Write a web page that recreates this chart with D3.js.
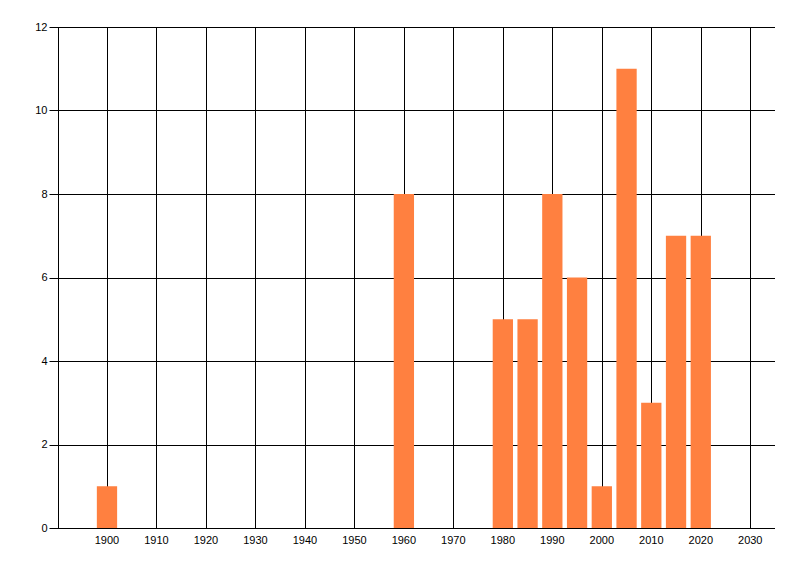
<!DOCTYPE html>
<html>
<head>
<meta charset="utf-8">
<script src="https://cdn.jsdelivr.net/npm/d3@7"></script>
<style>
  body { margin: 0; background: #fff; }
  text { font-family: "Liberation Sans", Arial, sans-serif; font-size: 11px; fill: #000; }
</style>
</head>
<body>
<div id="chart"></div>
<script>
const years = [1900, 1960, 1980, 1985, 1990, 1995, 2000, 2005, 2010, 2015, 2020];
const counts = [1, 8, 5, 5, 8, 6, 1, 11, 3, 7, 7];
const xTicks = [1900, 1910, 1920, 1930, 1940, 1950, 1960, 1970, 1980, 1990, 2000, 2010, 2020, 2030];
const yTicks = [0, 2, 4, 6, 8, 10, 12];

const width = 800, height = 576;
const margin = { top: 27, right: 25, bottom: 48, left: 57.5 };

const svg = d3.select("#chart")
  .append("svg")
  .attr("width", width)
  .attr("height", height);

const x = d3.scaleLinear().domain([1890, 2035]).range([margin.left, width - margin.right]);
const y = d3.scaleLinear().domain([0, 12]).range([height - margin.bottom, margin.top]);

// vertical grid lines
svg.append("g")
  .selectAll("line")
  .data(xTicks)
  .enter()
  .append("line")
  .attr("x1", d => Math.round(x(d)) + 0.5)
  .attr("x2", d => Math.round(x(d)) + 0.5)
  .attr("y1", y(12))
  .attr("y2", y(0))
  .attr("stroke", "#000");

// horizontal grid lines + y ticks
svg.append("g")
  .selectAll("line")
  .data(yTicks)
  .enter()
  .append("line")
  .attr("x1", margin.left - 8)
  .attr("x2", width - margin.right)
  .attr("y1", d => Math.round(y(d)) + 0.5)
  .attr("y2", d => Math.round(y(d)) + 0.5)
  .attr("stroke", "#000");

// left axis line
svg.append("line")
  .attr("x1", Math.round(margin.left) + 0.5)
  .attr("x2", Math.round(margin.left) + 0.5)
  .attr("y1", y(12))
  .attr("y2", y(0))
  .attr("stroke", "#000");

// bars
const barW = 4.1;
svg.append("g")
  .selectAll("rect")
  .data(years.map((yr, i) => ({ yr, v: counts[i] })))
  .enter()
  .append("rect")
  .attr("x", d => x(d.yr - barW / 2))
  .attr("width", x(barW) - x(0))
  .attr("y", d => y(d.v))
  .attr("height", d => y(0) - y(d.v))
  .attr("fill", "#ff8040");

// y labels
svg.append("g")
  .selectAll("text")
  .data(yTicks)
  .enter()
  .append("text")
  .attr("x", margin.left - 10)
  .attr("y", d => y(d))
  .attr("dy", "0.35em")
  .attr("text-anchor", "end")
  .text(d => d);

// x labels
svg.append("g")
  .selectAll("text")
  .data(xTicks)
  .enter()
  .append("text")
  .attr("x", d => x(d))
  .attr("y", y(0) + 16)
  .attr("text-anchor", "middle")
  .text(d => d);
</script>
</body>
</html>
